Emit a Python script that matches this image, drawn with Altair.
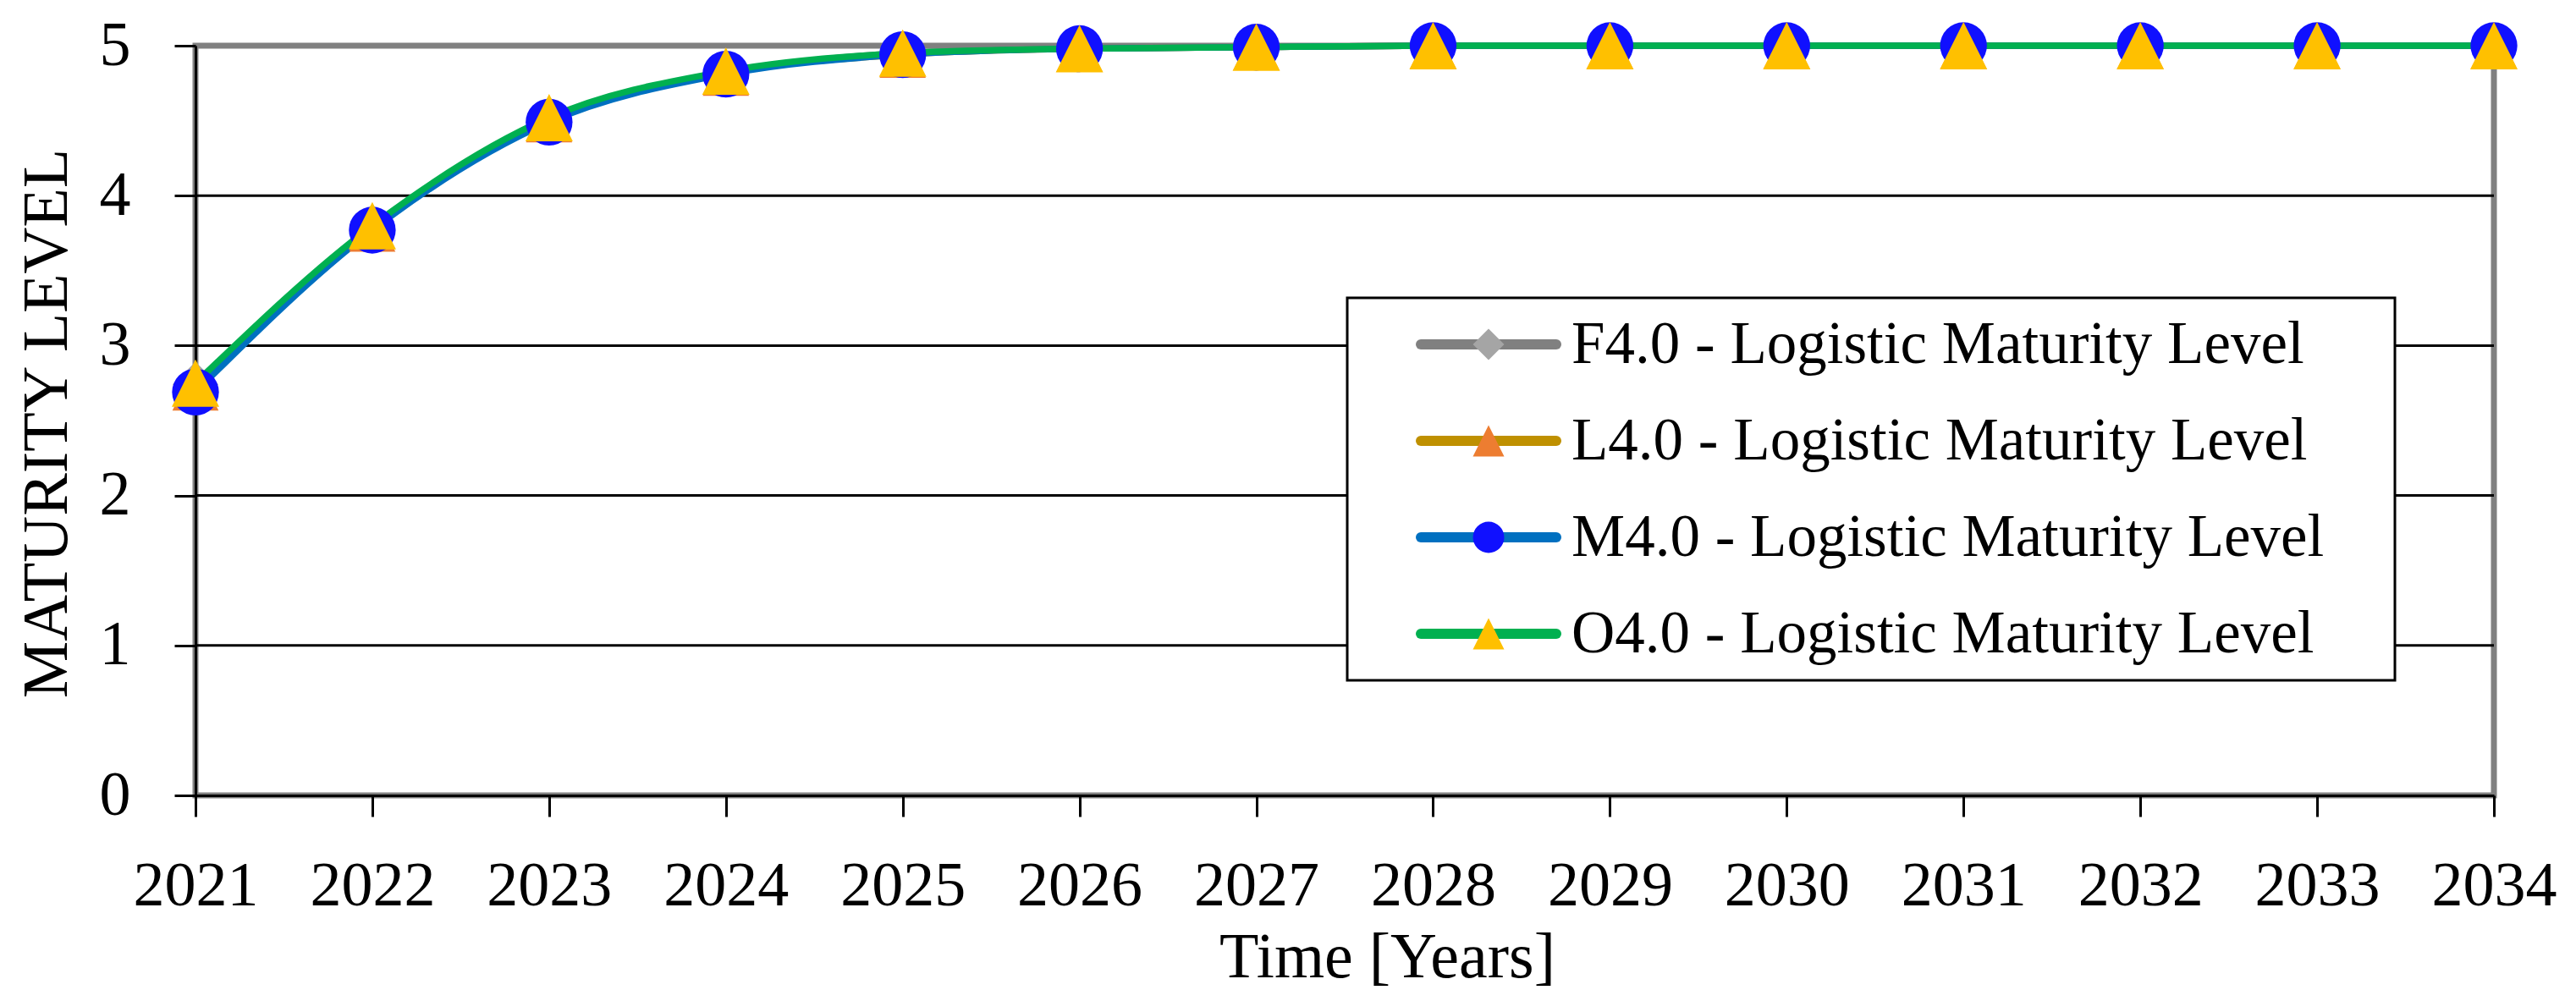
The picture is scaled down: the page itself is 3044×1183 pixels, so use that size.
import altair as alt
import pandas as pd

years = list(range(2021, 2035))
series_names = [
    "F4.0 - Logistic Maturity Level",
    "L4.0 - Logistic Maturity Level",
    "M4.0 - Logistic Maturity Level",
    "O4.0 - Logistic Maturity Level",
]
f_vals = [2.74, 3.79, 4.51, 4.82, 4.95, 4.98, 4.99, 5.0, 5.0, 5.0, 5.0, 5.0, 5.0, 5.0]
l_vals = [2.72, 3.78, 4.51, 4.82, 4.94, 4.98, 4.99, 5.0, 5.0, 5.0, 5.0, 5.0, 5.0, 5.0]
m_vals = [2.69, 3.77, 4.49, 4.81, 4.94, 4.98, 4.99, 5.0, 5.0, 5.0, 5.0, 5.0, 5.0, 5.0]
o_vals = [2.75, 3.80, 4.52, 4.83, 4.95, 4.98, 4.99, 5.0, 5.0, 5.0, 5.0, 5.0, 5.0, 5.0]
y_ticks = [0, 1, 2, 3, 4, 5]
grid_vals = [1, 2, 3, 4]

line_colors = ["#808080", "#BF9000", "#0070C0", "#00B050"]
marker_fills = ["#A5A5A5", "#ED7D31", "#1010FF", "#FFC000"]
TRI = "M0,-1L1,1L-1,1Z"
marker_shapes = ["diamond", TRI, "circle", TRI]
marker_sizes = [2916, 3136, 2304, 2500]

FONT = "Liberation Serif"
W, H = 2716, 886

rows = []
for name, vals in zip(series_names, [f_vals, l_vals, m_vals, o_vals]):
    for yr, v in zip(years, vals):
        rows.append({"year": yr, "level": v, "series": name})
df = pd.DataFrame(rows)
df_grid = pd.DataFrame({"g": grid_vals})
df_leg = pd.DataFrame({"series": series_names})

color_scale = alt.Scale(domain=series_names, range=line_colors)
fill_scale = alt.Scale(domain=series_names, range=marker_fills)
shape_scale = alt.Scale(domain=series_names, range=marker_shapes)
size_scale = alt.Scale(domain=series_names, range=marker_sizes)
yscale = alt.Scale(domain=[0, 5], nice=False, zero=True)
leg_y = alt.Y("series:N", scale=alt.Scale(type="point", domain=series_names,
                                          range=[353, 695], padding=0), axis=None)

x_enc = alt.X(
    "year:Q",
    scale=alt.Scale(domain=[2021, 2034], nice=False, zero=False),
    axis=alt.Axis(values=years, format="d", title="Time [Years]",
                  labelFlush=False, labelOverlap=False, labelPadding=46,
                  labelBaseline="top",
                  titleX=1408, titleY=214, titleAlign="center",
                  titleBaseline="alphabetic"),
)

grid = alt.Chart(df_grid).mark_rule(color="black", strokeWidth=3).encode(
    y=alt.Y("g:Q", scale=yscale, axis=None)
)

box = alt.Chart(alt.Data(values=[{"a": 1}])).mark_rect(
    fill="white", stroke="black", strokeWidth=3
).encode(x=alt.value(1361), x2=alt.value(2599), y=alt.value(298), y2=alt.value(750))

lines = alt.Chart(df).mark_line(interpolate="monotone", strokeWidth=7.5).encode(
    x=x_enc,
    y=alt.Y("level:Q", scale=yscale,
            axis=alt.Axis(values=y_ticks, title="MATURITY LEVEL", labelFlush=False,
                          labelPadding=52, titleAngle=270, titleX=-176, titleY=446,
                          titleAlign="center", titleBaseline="middle")),
    color=alt.Color("series:N", scale=color_scale, legend=None),
)

points = alt.Chart(df).mark_point(filled=True, opacity=1, strokeWidth=0).encode(
    x="year:Q",
    y=alt.Y("level:Q", scale=yscale, axis=None),
    fill=alt.Fill("series:N", scale=fill_scale, legend=None),
    shape=alt.Shape("series:N", scale=shape_scale, legend=None),
    size=alt.Size("series:N", scale=size_scale, legend=None),
)

leg_lines = alt.Chart(df_leg).mark_rule(strokeWidth=12, strokeCap="round").encode(
    x=alt.value(1448), x2=alt.value(1608), y=leg_y,
    color=alt.Color("series:N", scale=color_scale, legend=None),
)
leg_points = alt.Chart(df_leg).mark_point(filled=True, opacity=1, strokeWidth=0).encode(
    x=alt.value(1528), y=leg_y,
    fill=alt.Fill("series:N", scale=fill_scale, legend=None),
    shape=alt.Shape("series:N", scale=shape_scale, legend=None),
    size=alt.value(1369),
)
leg_text = alt.Chart(df_leg).mark_text(
    align="left", baseline="alphabetic", dy=22, font=FONT, fontSize=71, color="black"
).encode(x=alt.value(1626), y=leg_y, text="series:N")

chart = alt.layer(grid, box, lines, points, leg_lines, leg_points, leg_text).resolve_scale(
    y="independent"
).properties(
    width=W, height=H,
    padding={"left": 223, "top": 46, "right": 80, "bottom": 230},
    autosize=alt.AutoSizeParams(type="none"),
    background="white",
).configure_view(
    stroke="#808080", strokeWidth=7
).configure_axis(
    grid=False,
    domainColor="black", domainWidth=3,
    tickColor="black", tickWidth=3, tickSize=25,
    labelFont=FONT, labelFontSize=74, labelColor="black",
    titleFont=FONT, titleFontSize=76, titleColor="black", titleFontWeight="normal",
)

chart.save("out.html", embed_options={"renderer": "svg", "actions": False})
